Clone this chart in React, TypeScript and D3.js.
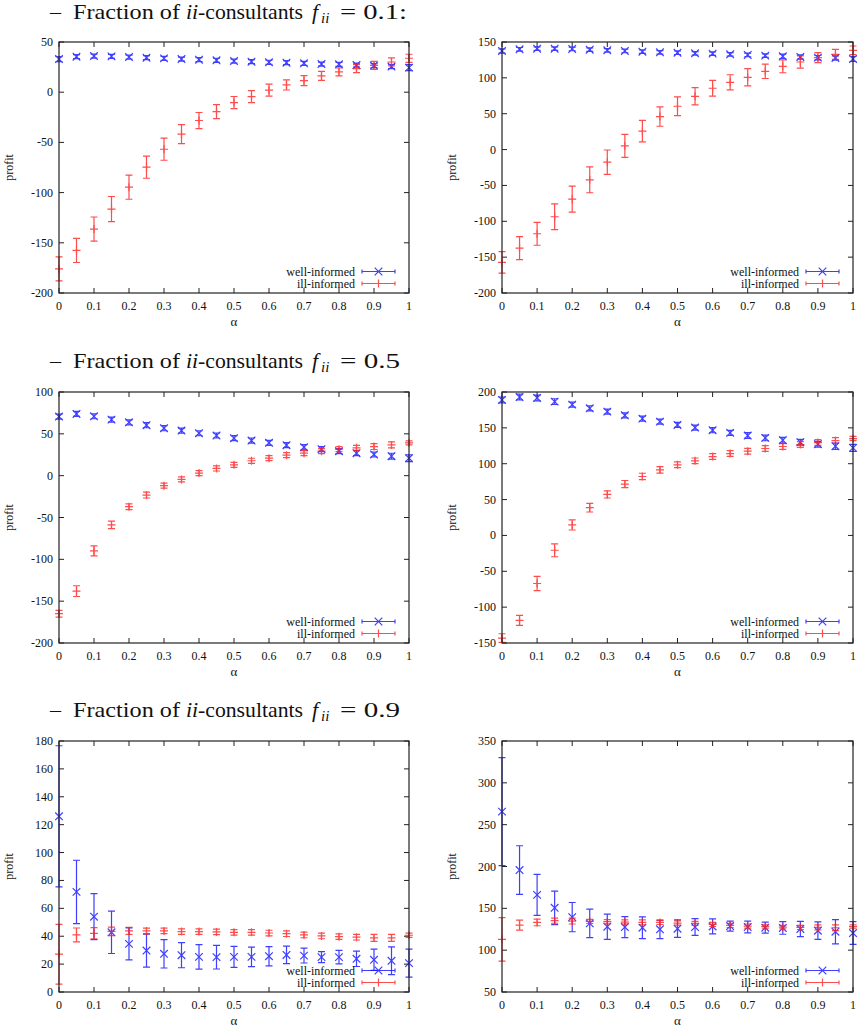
import * as d3 from 'd3';

// alpha grid shared by every panel
const ALPHA = [0, 0.05, 0.1, 0.15, 0.2, 0.25, 0.3, 0.35, 0.4, 0.45, 0.5, 0.55, 0.6, 0.65, 0.7, 0.75, 0.8, 0.85, 0.9, 0.95, 1];
const X_TICKS = [0, 0.1, 0.2, 0.3, 0.4, 0.5, 0.6, 0.7, 0.8, 0.9, 1];

// f_ii = 0.1, left
const wellA = [33, 35.4, 36, 35.7, 35, 34.4, 33.7, 33, 32.4, 31.8, 31, 30.4, 29.8, 29.4, 28.8, 28, 27.8, 27, 26.5, 25.5, 24.5];
const wellAErr = [2.5, 2, 2, 2, 2, 2, 2, 2, 2, 2, 2, 2, 2, 2, 2, 2, 2, 2, 2, 2, 3];
const illA = [-176, -157.6, -136.3, -116.4, -94.6, -74.7, -56.8, -41.8, -28.2, -19.3, -10.3, -4.4, 2, 7.2, 11.5, 16.2, 20.2, 23.5, 26.8, 30.1, 33.8];
const illAErr = [12, 12, 12, 12.5, 12, 11, 11, 9.5, 8, 7, 6, 6, 6, 5, 5, 4.5, 4, 4, 4, 4, 4];

// f_ii = 0.1, right
const wellB = [137.5, 139.8, 140.7, 140.7, 140.3, 139.3, 138.4, 137.5, 136.5, 135.6, 135.1, 134.2, 133.8, 132.8, 131.9, 131, 130, 129.1, 128.2, 127.7, 126.3];
const wellBErr = [3, 2.5, 2.5, 2.5, 2.5, 2.5, 2.5, 2.5, 2.5, 2.5, 2.5, 2.5, 2.5, 2.5, 2.5, 2.5, 3, 3, 3, 3, 3.5];
const illB = [-157.3, -137.4, -117.4, -93.7, -69.1, -42.2, -17.6, 5.2, 25.6, 46, 60.4, 74.3, 85.5, 93.8, 100.8, 109.1, 116.1, 122.1, 128.2, 132.8, 138.4];
const illBErr = [15, 16, 16, 18, 18, 18, 17, 16, 15, 13.5, 13, 12, 11, 10.5, 12, 10, 9, 8.5, 7, 7, 6];

// f_ii = 0.5, left
const wellC = [70.6, 73.8, 71, 67, 63.8, 60.3, 56.7, 53.9, 50.7, 48, 44.8, 42, 39.3, 36.4, 34, 31.7, 29.3, 26.9, 25.3, 23.3, 20.9];
const wellCErr = [3, 3, 3, 3, 3, 3, 3, 3, 3, 3, 3, 3, 3, 3, 3, 3, 3, 3, 3, 3.5, 4];
const illC = [-165, -138, -89.9, -58.9, -37.1, -23.2, -12, -4.5, 3.1, 8.6, 13, 17.8, 20.9, 24.5, 26.9, 29.3, 31.7, 33.3, 34.8, 36.8, 39.2];
const illCErr = [4, 6.4, 6, 4.5, 3.5, 3.5, 3, 3, 3, 3, 3, 3, 3, 3, 3, 3, 3, 3, 3.5, 3.5, 2.5];

// f_ii = 0.5, right
const wellD = [188.9, 193, 191.7, 186.6, 182.4, 177.3, 172.6, 167.5, 162.9, 158.7, 154.1, 150.4, 146.7, 143, 139.3, 136, 132.8, 130, 127.2, 124.4, 122.1];
const wellDErr = [4, 4, 4, 4, 3.5, 3.5, 3.5, 3.5, 3.5, 3.5, 3.5, 3.5, 3.5, 3.5, 4, 4, 4, 4, 4, 4.5, 5];
const illD = [-143.1, -118.5, -67, -20.7, 14.6, 38.7, 57.2, 71.6, 82.2, 91.5, 98.5, 104, 110, 114.2, 117.5, 121.2, 124, 126.7, 129.5, 132.3, 135.1];
const illDErr = [6, 7, 10, 9, 7, 6, 5, 5, 4.5, 4.5, 4, 4, 4, 4, 4, 4, 4, 4, 4, 4, 3];

// f_ii = 0.9, left
const wellE = [126, 71.8, 54, 42.8, 34.5, 29.7, 27.4, 26.4, 25.2, 25, 25.2, 25.2, 25.7, 26.6, 26.1, 25, 25, 23.8, 23.1, 22.4, 20.7];
const wellEErr = [50.6, 22.7, 16.5, 15.2, 11.5, 11.8, 10.2, 9, 8.8, 8.5, 7.5, 7, 6.9, 6.3, 5.3, 4, 4.8, 5.5, 7.6, 9.9, 10.1];
const illE = [27.1, 40.9, 42.1, 43.5, 43.8, 43.8, 43.8, 43.3, 43.3, 43.1, 42.8, 42.8, 42.3, 41.8, 40.9, 40.2, 39.7, 39.3, 38.8, 38.8, 40.7];
const illEErr = [21.4, 5, 4, 3, 2.5, 2, 2, 2, 2, 2, 2, 2, 2, 2, 2, 2, 2, 2, 2.5, 2.5, 1.5];

// f_ii = 0.9, right
const wellF = [265.6, 195.8, 166.1, 150.6, 139.5, 132, 128, 127.6, 126.9, 124.9, 125.7, 127.6, 128.4, 128.8, 127.6, 126.9, 126.5, 125.3, 123.3, 122.1, 120.5];
const wellFErr = [64.6, 29, 24.4, 20, 17.5, 17, 15, 12.5, 13, 11, 10.5, 10, 9, 6, 7, 6.5, 7.5, 9, 10.5, 14.5, 13.5];
const illF = [113, 130, 133.2, 135.2, 134.8, 134.4, 134, 133.6, 133.2, 133.2, 132.4, 132, 130.8, 129.6, 128.8, 128.4, 127.6, 127.2, 127.2, 126.8, 128.4];
const illFErr = [26, 6, 4, 3, 3.5, 2.5, 2.5, 2.5, 3, 2.5, 2.5, 2.5, 2.5, 2.5, 2.5, 2, 2, 2.5, 3, 3.5, 2];

const FRACTIONS = ['0.1:', '0.5', '0.9'];

const BLUE = '#1010ff';
const RED = '#ff2020';
const AXIS = '#222';
const SERIF = { fontFamily: "'Liberation Serif', serif" };

interface PanelProps {
  left: number;
  top: number;
  width: number;
  height: number;
  yDomain: [number, number];
  yTicks: number[];
  well: number[];
  wellErr: number[];
  ill: number[];
  illErr: number[];
}

function Cross({ x, y, r, color }: { x: number; y: number; r: number; color: string }) {
  return (
    <path d={`M${x - r},${y - r}L${x + r},${y + r}M${x - r},${y + r}L${x + r},${y - r}`} stroke={color} strokeWidth={1.2} fill="none" />
  );
}

function Plus({ x, y, r, color }: { x: number; y: number; r: number; color: string }) {
  return <path d={`M${x - r},${y}L${x + r},${y}M${x},${y - r}L${x},${y + r}`} stroke={color} strokeWidth={1.2} fill="none" />;
}

function ErrorSeries({
  xs,
  values,
  errs,
  color,
  marker,
  x,
  y,
}: {
  xs: number[];
  values: number[];
  errs: number[];
  color: string;
  marker: 'x' | '+';
  x: d3.ScaleLinear<number, number>;
  y: d3.ScaleLinear<number, number>;
}) {
  const cap = 3.5;
  return (
    <g opacity={0.8}>
      {values.map((v, i) => {
        const px = x(xs[i]);
        const y1 = y(v + errs[i]);
        const y2 = y(v - errs[i]);
        const py = y(v);
        return (
          <g key={i}>
            <path
              d={`M${px},${y1}L${px},${y2}M${px - cap},${y1}L${px + cap},${y1}M${px - cap},${y2}L${px + cap},${y2}`}
              stroke={color}
              strokeWidth={1.2}
              fill="none"
            />
            {marker === 'x' ? <Cross x={px} y={py} r={3.8} color={color} /> : <Plus x={px} y={py} r={4} color={color} />}
          </g>
        );
      })}
    </g>
  );
}

function Panel({ left, top, width, height, yDomain, yTicks, well, wellErr, ill, illErr }: PanelProps) {
  const x = d3.scaleLinear().domain([0, 1]).range([left, left + width]);
  const y = d3.scaleLinear().domain(yDomain).range([top + height, top]);
  const tick = 5;
  const right = left + width;
  const bottom = top + height;
  const fmt = (v: number) => String(v);

  // key layout
  const legX1 = right - 47;
  const legX2 = right - 14;
  const legY1 = bottom - 21.5;
  const legY2 = bottom - 9.5;

  return (
    <g>
      {/* tick marks, mirrored on all four sides */}
      {yTicks.map((t) => (
        <g key={`y${t}`}>
          <line x1={left} x2={left + tick} y1={y(t)} y2={y(t)} stroke={AXIS} />
          <line x1={right - tick} x2={right} y1={y(t)} y2={y(t)} stroke={AXIS} />
          <text x={left - 6} y={y(t) + 4} textAnchor="end" fontSize={12} style={SERIF} fill="#111">
            {fmt(t)}
          </text>
        </g>
      ))}
      {X_TICKS.map((t) => (
        <g key={`x${t}`}>
          <line x1={x(t)} x2={x(t)} y1={bottom} y2={bottom - tick} stroke={AXIS} />
          <line x1={x(t)} x2={x(t)} y1={top} y2={top + tick} stroke={AXIS} />
          <text x={x(t)} y={bottom + 17} textAnchor="middle" fontSize={12} style={SERIF} fill="#111">
            {fmt(t)}
          </text>
        </g>
      ))}
      <text
        transform={`translate(${left - 46},${(top + bottom) / 2}) rotate(-90)`}
        textAnchor="middle"
        fontSize={12}
        style={SERIF}
        fill="#111"
      >
        profit
      </text>
      <text x={(left + right) / 2} y={bottom + 33} textAnchor="middle" fontSize={13} style={SERIF} fill="#111">
        α
      </text>

      <ErrorSeries xs={ALPHA} values={well} errs={wellErr} color={BLUE} marker="x" x={x} y={y} />
      <ErrorSeries xs={ALPHA} values={ill} errs={illErr} color={RED} marker="+" x={x} y={y} />

      <rect x={left} y={top} width={width} height={height} fill="none" stroke={AXIS} strokeWidth={1.2} />

      {/* key */}
      <text x={legX1 - 7} y={legY1 + 4} textAnchor="end" fontSize={12} style={SERIF} fill="#111">
        well-informed
      </text>
      <text x={legX1 - 7} y={legY2 + 4} textAnchor="end" fontSize={12} style={SERIF} fill="#111">
        ill-informed
      </text>
      <g opacity={0.8}>
        <path
          d={`M${legX1},${legY1}L${legX2},${legY1}M${legX1},${legY1 - 2}L${legX1},${legY1 + 2}M${legX2},${legY1 - 2}L${legX2},${legY1 + 2}`}
          stroke={BLUE}
          strokeWidth={1.2}
        />
        <Cross x={(legX1 + legX2) / 2} y={legY1} r={3.8} color={BLUE} />
        <path
          d={`M${legX1},${legY2}L${legX2},${legY2}M${legX1},${legY2 - 2}L${legX1},${legY2 + 2}M${legX2},${legY2 - 2}L${legX2},${legY2 + 2}`}
          stroke={RED}
          strokeWidth={1.2}
        />
        <Plus x={(legX1 + legX2) / 2} y={legY2} r={4} color={RED} />
      </g>
    </g>
  );
}

// section heading, each piece placed at its own x and stretched to its width
function Heading({ y, value }: { y: number; value: string }) {
  const common = { fontSize: 22, style: SERIF, fill: '#111' };
  return (
    <g>
      <text x={50} y={y} {...common}>–</text>
      <text x={73} y={y} {...common} textLength={107} lengthAdjust="spacingAndGlyphs">Fraction of</text>
      <text x={186} y={y} {...common} fontStyle="italic">ii</text>
      <text x={198} y={y} {...common} textLength={105} lengthAdjust="spacingAndGlyphs">-consultants</text>
      <text x={312} y={y} {...common} fontStyle="italic">f</text>
      <text x={321} y={y + 4} {...common} fontSize={15} fontStyle="italic">ii</text>
      <text x={340} y={y} {...common} textLength={value.length > 3 ? 67 : 60} lengthAdjust="spacingAndGlyphs">
        = {value}
      </text>
    </g>
  );
}

const COL_LEFT = [59, 502];
const COL_WIDTH = [350, 351];
const ROW_TOP = [42, 392, 741];
const ROW_HEIGHT = 251;
const HEAD_Y = [19, 368, 717];

export default function App() {
  const panels: Omit<PanelProps, 'left' | 'top' | 'width' | 'height'>[][] = [
    [
      { yDomain: [-200, 50], yTicks: [-200, -150, -100, -50, 0, 50], well: wellA, wellErr: wellAErr, ill: illA, illErr: illAErr },
      { yDomain: [-200, 150], yTicks: [-200, -150, -100, -50, 0, 50, 100, 150], well: wellB, wellErr: wellBErr, ill: illB, illErr: illBErr },
    ],
    [
      { yDomain: [-200, 100], yTicks: [-200, -150, -100, -50, 0, 50, 100], well: wellC, wellErr: wellCErr, ill: illC, illErr: illCErr },
      { yDomain: [-150, 200], yTicks: [-150, -100, -50, 0, 50, 100, 150, 200], well: wellD, wellErr: wellDErr, ill: illD, illErr: illDErr },
    ],
    [
      { yDomain: [0, 180], yTicks: [0, 20, 40, 60, 80, 100, 120, 140, 160, 180], well: wellE, wellErr: wellEErr, ill: illE, illErr: illEErr },
      { yDomain: [50, 350], yTicks: [50, 100, 150, 200, 250, 300, 350], well: wellF, wellErr: wellFErr, ill: illF, illErr: illFErr },
    ],
  ];

  return (
    <svg width={859} height={1033} style={{ position: 'absolute', left: 0, top: 0, background: '#fff' }}>
      <rect width={859} height={1033} fill="#fff" />
      {panels.map((row, r) => (
        <g key={r}>
          <Heading y={HEAD_Y[r]} value={FRACTIONS[r]} />
          {row.map((p, c) => (
            <Panel key={c} left={COL_LEFT[c]} top={ROW_TOP[r]} width={COL_WIDTH[c]} height={ROW_HEIGHT} {...p} />
          ))}
        </g>
      ))}
    </svg>
  );
}
